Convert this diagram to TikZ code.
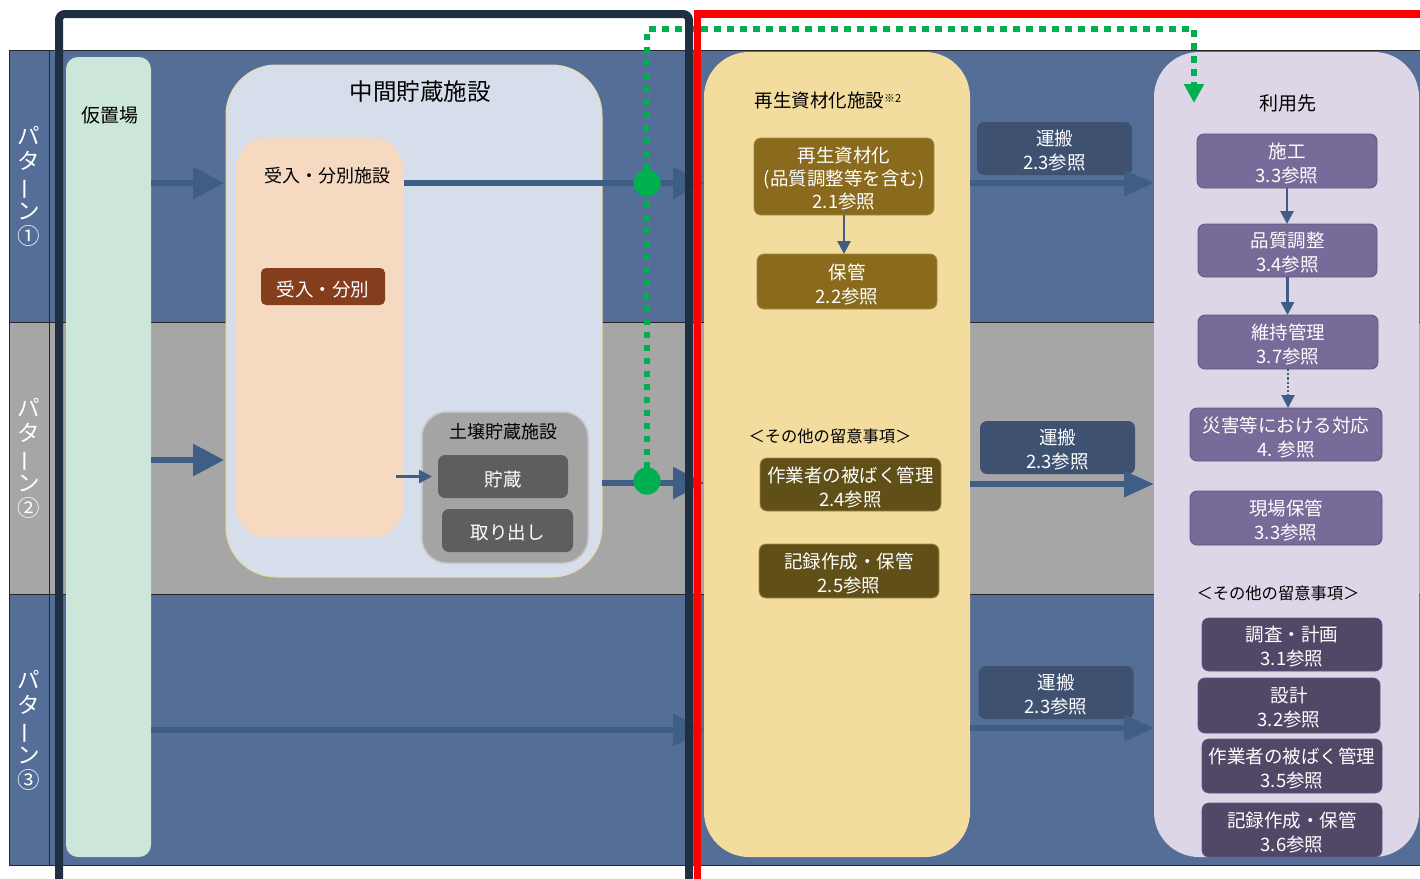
\documentclass[tikz,border=0pt]{standalone}
\usepackage{fontspec}
\setmainfont{Noto Sans CJK JP}
\usetikzlibrary{arrows.meta}
\definecolor{bandblue}{HTML}{546E98}
\definecolor{bandgray}{HTML}{A6A6A6}
\definecolor{navyframe}{HTML}{1F2E41}
\definecolor{arrowblue}{HTML}{3E5E86}
\definecolor{mint}{HTML}{CCE6D9}
\definecolor{ltblue}{HTML}{D5DEEA}
\definecolor{chukanborder}{HTML}{E9D9A2}
\definecolor{peach}{HTML}{F6D9C1}
\definecolor{brownbox}{HTML}{843E1E}
\definecolor{soilgray}{HTML}{A4A4A4}
\definecolor{soilborder}{HTML}{C4C4C4}
\definecolor{darkgraybox}{HTML}{5E5E5E}
\definecolor{yellowfac}{HTML}{F2DC9E}
\definecolor{olivebox}{HTML}{8A6A1D}
\definecolor{darkolive}{HTML}{614F18}
\definecolor{olivebord}{HTML}{A38A45}
\definecolor{transbox}{HTML}{3F5170}
\definecolor{lavender}{HTML}{DDD6E7}
\definecolor{purplebox}{HTML}{786A99}
\definecolor{purplebord}{HTML}{5F5585}
\definecolor{dpurplebox}{HTML}{514767}
\definecolor{greenline}{HTML}{00B050}
\definecolor{redframe}{HTML}{FF0000}
\newcommand\bxfont{\fontsize{18.5}{24}\selectfont}
\newcommand\hdfont{\fontsize{18}{22}\selectfont}
\tikzset{
  region/.style={inner sep=0pt, outer sep=0pt},
  hd/.style={text=black, font=\hdfont, inner sep=2pt, align=center},
  boxtext/.style={text=white, align=center, font=\bxfont, inner sep=0pt, outer sep=0pt, yshift=-2.5pt},
  bt/.style={label={[boxtext]center:{#1}}},
  box/.style={rounded corners=7pt, inner sep=0pt, outer sep=0pt},
  olive/.style={box, fill=olivebox, draw=olivebord, line width=0.8pt},
  dolive/.style={box, fill=darkolive, draw=olivebord, line width=0.8pt},
  trans/.style={box, fill=transbox, minimum width=155pt, minimum height=53pt},
  purp/.style={box, fill=purplebox, draw=purplebord, line width=0.8pt},
  dpurp/.style={box, fill=dpurplebox, draw=purplebord, line width=0.8pt},
  patlbl/.style={text=white, align=center, font=\fontsize{22.5}{25}\selectfont, inner sep=0pt},
  bigarrow/.style={draw=arrowblue, line width=6pt, -{Triangle[length=31pt,width=31pt]}},
  medarrow/.style={draw=arrowblue, line width=6pt, -{Triangle[length=30pt,width=25pt]}},
  smallarrow/.style={draw=arrowblue, line width=2.8pt, -{Triangle[length=13pt,width=13pt]}},
  greendots/.style={draw=greenline, line width=6pt, dash pattern=on 6.5pt off 6.5pt},
  gdot/.style={circle, fill=greenline, minimum size=27pt, inner sep=0pt}
}
\begin{document}
\begin{tikzpicture}[x=1pt,y=-1pt]
\useasboundingbox (0,0) rectangle (1420,878);
\fill[white] (0,0) rectangle (1420,878);
% bands
\fill[bandblue] (9,50) rectangle (1420,322);
\fill[bandgray] (9,322) rectangle (1420,594);
\fill[bandblue] (9,594) rectangle (1420,865);
\draw[line width=1pt, black!85] (9,50) rectangle (1422,865);
\draw[line width=1pt, black!85] (9,322) -- (1422,322);
\draw[line width=1pt, black!85] (9,594) -- (1422,594);
\draw[line width=1pt, black!85] (49,50) -- (49,865);
% pattern labels
\node[patlbl] (p1) at (29,186) {パ\\タ\\\rotatebox[origin=c]{90}{ー}\\ン\\①};
\node[patlbl] (p2) at (29,458) {パ\\タ\\\rotatebox[origin=c]{90}{ー}\\ン\\②};
\node[patlbl] (p3) at (29,730) {パ\\タ\\\rotatebox[origin=c]{90}{ー}\\ン\\③};
% row coordinates
\coordinate (r1) at (0,183);
\coordinate (r1b) at (0,460);
\coordinate (r2) at (0,483);
\coordinate (r3) at (0,730);
\coordinate (s1) at (0,183);
\coordinate (s2) at (0,484);
\coordinate (s3) at (0,728);
% temporary storage
\node[region, fill=mint, rounded corners=12pt, minimum width=85pt, minimum height=800pt] (kari) at (108.5,457) {};
\node[hd, font=\fontsize{19}{19}\selectfont] (karilbl) at (110,115) {仮置場};
% interim storage
\node[region, fill=ltblue, draw=chukanborder, line width=1pt, rounded corners=50pt, minimum width=376pt, minimum height=512pt] (chukan) at (414,321) {};
\node[hd, font=\fontsize{23.5}{26}\selectfont] (chukanlbl) at (420,92) {中間貯蔵施設};
\node[region, fill=peach, rounded corners=30pt, minimum width=167pt, minimum height=399pt] (ukefac) at (319.5,337.5) {};
\node[hd] (ukelbl) at (327,176) {受入・分別施設};
\node[box, fill=brownbox, rounded corners=5pt, minimum width=124pt, minimum height=37pt, bt={受入・分別}] (ukebox) at (323,286.5) {};
\node[region, fill=soilgray, draw=soilborder, line width=1.5pt, rounded corners=25pt, minimum width=166pt, minimum height=151pt] (soil) at (505,487.5) {};
\node[hd] (soillbl) at (503,432) {土壌貯蔵施設};
\node[box, fill=darkgraybox, rounded corners=7pt, minimum width=130pt, minimum height=43pt, bt={貯蔵}] (chozo) at (503,476.5) {};
\node[box, fill=darkgraybox, rounded corners=7pt, minimum width=131pt, minimum height=43pt, bt={取り出し}] (tori) at (507.5,530.5) {};
% recycling facility
\node[region, fill=yellowfac, rounded corners=45pt, minimum width=266pt, minimum height=805pt] (saifac) at (837,454.5) {};
\node[hd, font=\fontsize{18.5}{20}\selectfont] (sailbl) at (828,100) {再生資材化施設\raisebox{0.45ex}{\fontsize{11}{11}\selectfont ※2}};
\node[olive, minimum width=180pt, minimum height=77pt, label={[boxtext, font=\fontsize{18.5}{23}\selectfont]center:{再生資材化\\(品質調整等を含む)\\2.1参照}}] (saika) at (844,176.5) {};
\node[olive, minimum width=180pt, minimum height=55pt, bt={保管\\2.2参照}] (hokan) at (847,281.5) {};
\node[hd, font=\fontsize{16.3}{18}\selectfont] (sonota1) at (830,436) {＜その他の留意事項＞};
\node[dolive, minimum width=181pt, minimum height=53pt, bt={作業者の被ばく管理\\2.4参照}] (hibaku1) at (850.5,484.5) {};
\node[dolive, minimum width=180pt, minimum height=54pt, bt={記録作成・保管\\2.5参照}] (kiroku1) at (849,571) {};
% transport
\node[trans, bt={運搬\\2.3参照}] (unpan1) at (1054.5,148.5) {};
\node[trans, bt={運搬\\2.3参照}] (unpan2) at (1057.5,447.5) {};
\node[trans, bt={運搬\\2.3参照}] (unpan3) at (1056,692.5) {};
% destination
\node[region, fill=lavender, rounded corners=45pt, minimum width=265pt, minimum height=805pt] (riyou) at (1286.5,454.5) {};
\node[hd, font=\fontsize{19}{19}\selectfont] (riyoulbl) at (1288,103) {利用先};
\node[purp, minimum width=180pt, minimum height=54pt, bt={施工\\3.3参照}] (seko) at (1287,161) {};
\node[purp, minimum width=179pt, minimum height=53pt, bt={品質調整\\3.4参照}] (hinshitsu) at (1287.5,250.5) {};
\node[purp, minimum width=180pt, minimum height=54pt, bt={維持管理\\3.7参照}] (iji) at (1288,342) {};
\node[purp, minimum width=192pt, minimum height=53pt, bt={災害等における対応\\4. 参照}] (saigai) at (1286,434.5) {};
\node[purp, minimum width=192pt, minimum height=54pt, bt={現場保管\\3.3参照}] (genba) at (1286,518) {};
\node[hd, font=\fontsize{16.3}{18}\selectfont] (sonota2) at (1278,593) {＜その他の留意事項＞};
\node[dpurp, minimum width=180pt, minimum height=53pt, bt={調査・計画\\3.1参照}] (chosa) at (1292,644.5) {};
\node[dpurp, minimum width=182pt, minimum height=55pt, bt={設計\\3.2参照}] (sekkei) at (1289,705.5) {};
\node[dpurp, minimum width=180pt, minimum height=54pt, bt={作業者の被ばく管理\\3.5参照}] (hibaku2) at (1292,766) {};
\node[dpurp, minimum width=180pt, minimum height=54pt, bt={記録作成・保管\\3.6参照}] (kiroku2) at (1292,830) {};
% flow arrows
\draw[bigarrow, shorten >=2pt] (kari.east |- r1) -- (chukan.west |- r1);
\draw[bigarrow, shorten <=12pt] (ukelbl.east |- r1) -- (saifac.west |- r1);
\draw[bigarrow, shorten >=2pt] (kari.east |- r1b) -- (chukan.west |- r1b);
\draw[smallarrow, shorten >=6pt] ([xshift=-7pt]ukefac.east |- chozo.west) -- (chozo.west);
\draw[bigarrow] (chukan.east |- r2) -- (saifac.west |- r2);
\draw[bigarrow] (kari.east |- r3) -- (saifac.west |- r3);
\draw[medarrow] (saifac.east |- s1) -- (riyou.west |- s1);
\draw[medarrow] (saifac.east |- s2) -- (riyou.west |- s2);
\draw[medarrow] (saifac.east |- s3) -- (riyou.west |- s3);
\draw[smallarrow] (saika.south) -- (saika.south |- hokan.north);
\draw[smallarrow] (seko.south) -- (seko.south |- hinshitsu.north);
\draw[smallarrow] (hinshitsu.south) -- (hinshitsu.south |- iji.north);
\draw[draw=arrowblue, line width=2.2pt, dotted, -{Triangle[length=13pt,width=13pt]}] (iji.south) -- (iji.south |- saigai.north);
% green dotted route
\coordinate (gtop) at (647,29);
\coordinate (gcorner) at (1194,29);
\coordinate (gend) at (1194,103);
\node[gdot] (g1) at (647,183) {};
\node[gdot] (g2) at (647,481) {};
\draw[greendots] (g2.center) -- (g1.center);
\draw[greendots, -{Triangle[length=19pt,width=19pt]}] (g1.center) -- (gtop) -- (gcorner) -- (gend);
\node[gdot] at (g1) {};
\node[gdot] at (g2) {};
% frames
\draw[navyframe, line width=8pt, rounded corners=6pt] (59,885) -- (59,14) -- (689,14) -- (689,885);
\draw[redframe, line width=7.5pt] (697.5,885) -- (697.5,14) -- (1430,14);
\end{tikzpicture}
\end{document}
